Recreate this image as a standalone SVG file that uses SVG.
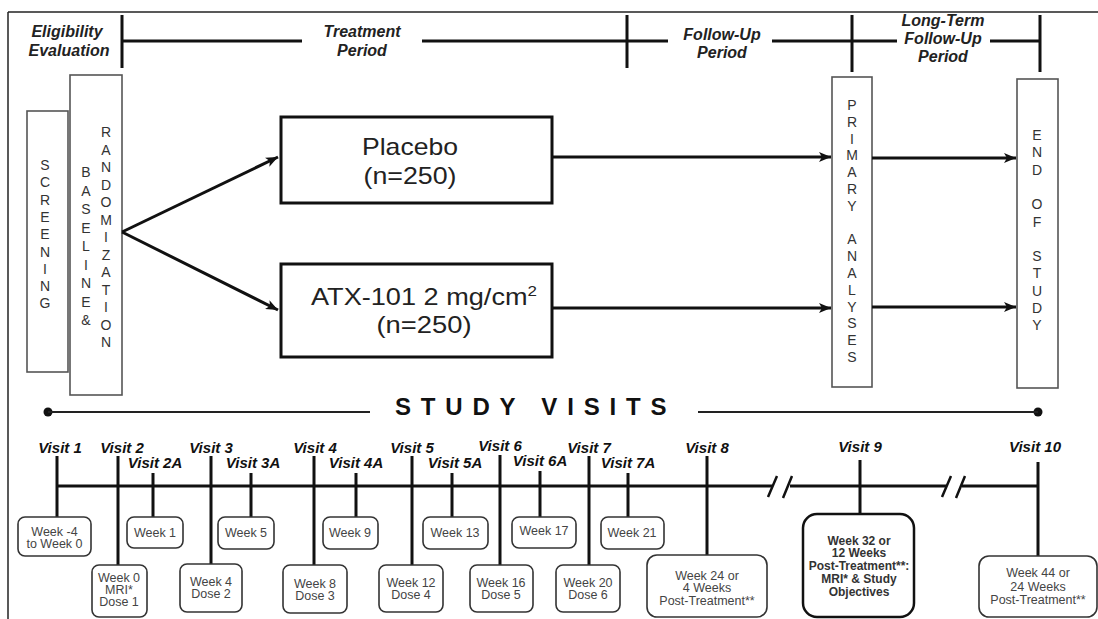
<svg xmlns="http://www.w3.org/2000/svg" width="1098" height="619" viewBox="0 0 1098 619">
<style>
.hdr{font-family:"Liberation Sans",Arial,sans-serif;font-size:16px;font-weight:bold;font-style:italic;fill:#222;text-anchor:middle}
.hl{stroke:#111;stroke-width:3;fill:none}
.vbox{fill:#fff;stroke:#555;stroke-width:1.6}
.vt{font-family:"Liberation Sans",Arial,sans-serif;font-size:14px;fill:#333;text-anchor:middle}
.big{fill:#fff;stroke:#111;stroke-width:3}
.bt{font-family:"Liberation Sans",Arial,sans-serif;font-size:24px;fill:#222;text-anchor:middle}
.conn{stroke:#111;stroke-width:3;fill:none}
.vl{font-family:"Liberation Sans",Arial,sans-serif;font-size:15px;font-weight:bold;font-style:italic;fill:#111;text-anchor:middle}
.wb{fill:#fff;stroke:#333;stroke-width:1.6}
.wt{font-family:"Liberation Sans",Arial,sans-serif;font-size:12.5px;fill:#444;text-anchor:middle}
.wtb{font-family:"Liberation Sans",Arial,sans-serif;font-size:12px;font-weight:bold;fill:#333;text-anchor:middle}
.tk{stroke:#111;stroke-width:3;fill:none}
</style>
<defs>
<marker id="ah" viewBox="0 0 12 10" refX="12" refY="5" markerWidth="13" markerHeight="10" markerUnits="userSpaceOnUse" orient="auto">
<path d="M0,0 L12,5 L0,10 L3,5 Z" fill="#111"/>
</marker>
</defs>
<rect width="1098" height="619" fill="#fff"/>
<g id="frame">
<line x1="8" y1="12" x2="1098" y2="12" stroke="#222" stroke-width="1.5"/>
<line x1="8" y1="12" x2="8" y2="619" stroke="#222" stroke-width="1.5"/>
</g>
<g id="header">
<text class="hdr" x="67" y="37">Eligibility</text>
<text class="hdr" x="69" y="56">Evaluation</text>
<text class="hdr" x="362" y="37">Treatment</text>
<text class="hdr" x="362" y="56">Period</text>
<text class="hdr" x="722" y="40">Follow-Up</text>
<text class="hdr" x="722" y="58">Period</text>
<text class="hdr" x="943" y="26">Long-Term</text>
<text class="hdr" x="943" y="44">Follow-Up</text>
<text class="hdr" x="943" y="62">Period</text>
<path class="hl" d="M122,41 H302 M422,41 H668 M772,41 H897 M990,41 H1040 M122,15 V68 M627,15 V68 M852,15 V72 M1040,15 V72"/>
</g>
<g id="screening">
<rect class="vbox" x="27" y="111" width="41" height="261"/>
<text class="vt"><tspan x="45" y="170">S</tspan><tspan x="45" y="187.3">C</tspan><tspan x="45" y="204.6">R</tspan><tspan x="45" y="221.9">E</tspan><tspan x="45" y="239.2">E</tspan><tspan x="45" y="256.5">N</tspan><tspan x="45" y="273.8">I</tspan><tspan x="45" y="291.1">N</tspan><tspan x="45" y="308.4">G</tspan></text>
</g>
<g id="baseline">
<rect class="vbox" x="70" y="75" width="52" height="320"/>
<text class="vt"><tspan x="86" y="177">B</tspan><tspan x="86" y="195.5">A</tspan><tspan x="86" y="214">S</tspan><tspan x="86" y="232.5">E</tspan><tspan x="86" y="251">L</tspan><tspan x="86" y="269.5">I</tspan><tspan x="86" y="288">N</tspan><tspan x="86" y="306.5">E</tspan><tspan x="86" y="325">&amp;</tspan></text>
<text class="vt"><tspan x="106" y="137">R</tspan><tspan x="106" y="154.5">A</tspan><tspan x="106" y="172">N</tspan><tspan x="106" y="189.5">D</tspan><tspan x="106" y="207">O</tspan><tspan x="106" y="224.5">M</tspan><tspan x="106" y="242">I</tspan><tspan x="106" y="259.5">Z</tspan><tspan x="106" y="277">A</tspan><tspan x="106" y="294.5">T</tspan><tspan x="106" y="312">I</tspan><tspan x="106" y="329.5">O</tspan><tspan x="106" y="347">N</tspan></text>
</g>
<g id="placebo">
<rect class="big" x="281" y="117" width="271" height="86"/>
<text class="bt" x="410" y="155" textLength="96" lengthAdjust="spacingAndGlyphs">Placebo</text>
<text class="bt" x="410" y="184" textLength="93" lengthAdjust="spacingAndGlyphs">(n=250)</text>
</g>
<g id="atx">
<rect class="big" x="281" y="264" width="271" height="93"/>
<text class="bt" x="424" y="305" textLength="226" lengthAdjust="spacingAndGlyphs">ATX-101 2 mg/cm<tspan font-size="15" dy="-9">2</tspan></text>
<text class="bt" x="424" y="333" textLength="95" lengthAdjust="spacingAndGlyphs">(n=250)</text>
</g>
<g id="primary">
<rect class="vbox" x="832" y="77" width="40" height="310"/>
<text class="vt"><tspan x="852" y="110">P</tspan><tspan x="852" y="126.8">R</tspan><tspan x="852" y="143.6">I</tspan><tspan x="852" y="160.4">M</tspan><tspan x="852" y="177.2">A</tspan><tspan x="852" y="194">R</tspan><tspan x="852" y="210.8">Y</tspan><tspan x="852" y="244.4">A</tspan><tspan x="852" y="261.2">N</tspan><tspan x="852" y="278">A</tspan><tspan x="852" y="294.8">L</tspan><tspan x="852" y="311.6">Y</tspan><tspan x="852" y="328.4">S</tspan><tspan x="852" y="345.2">E</tspan><tspan x="852" y="362">S</tspan></text>
</g>
<g id="end">
<rect class="vbox" x="1017" y="79" width="41" height="309"/>
<text class="vt"><tspan x="1037" y="140">E</tspan><tspan x="1037" y="157.3">N</tspan><tspan x="1037" y="174.6">D</tspan><tspan x="1037" y="209.2">O</tspan><tspan x="1037" y="226.5">F</tspan><tspan x="1037" y="261.1">S</tspan><tspan x="1037" y="278.4">T</tspan><tspan x="1037" y="295.7">U</tspan><tspan x="1037" y="313">D</tspan><tspan x="1037" y="330.3">Y</tspan></text>
</g>
<g id="connectors">
<line class="conn" x1="122" y1="232" x2="278" y2="157" marker-end="url(#ah)"/>
<line class="conn" x1="122" y1="232" x2="278" y2="310" marker-end="url(#ah)"/>
<line class="conn" x1="552" y1="157" x2="831" y2="157" marker-end="url(#ah)"/>
<line class="conn" x1="552" y1="308" x2="831" y2="308" marker-end="url(#ah)"/>
<line class="conn" x1="872" y1="158" x2="1016" y2="158" marker-end="url(#ah)"/>
<line class="conn" x1="872" y1="307" x2="1016" y2="307" marker-end="url(#ah)"/>
</g>
<g id="study-visits">
<circle cx="48" cy="412" r="4.5" fill="#111"/>
<circle cx="1038" cy="412" r="4.5" fill="#111"/>
<line x1="48" y1="412" x2="370" y2="412" stroke="#222" stroke-width="2"/>
<line x1="698" y1="412" x2="1038" y2="412" stroke="#222" stroke-width="2"/>
<text x="395" y="415" font-family="Liberation Sans,Arial,sans-serif" font-size="24" font-weight="bold" fill="#111" letter-spacing="9.8">STUDY VISITS</text>
</g>
<g id="timeline">
<path class="tk" d="M57,486 H772 M790,486 H946 M962,486 H1038"/>
<path d="M768,497 L777,476 M783,498 L792,476 M942,497 L951,476 M956,498 L965,476" stroke="#111" stroke-width="2.5" fill="none"/>
<path class="tk" d="M57,456 V517 M118,456 V565 M153,473 V517 M211,456 V564 M251,473 V517 M314,456 V565 M356,473 V517 M412,456 V565 M452,473 V517 M500,455 V565 M540,471 V517 M589,456 V565 M628,473 V517 M707,456 V555 M860,460 V514 M1038,462 V556"/>
</g>
<g id="visit1"><text class="vl" x="60" y="453">Visit 1</text><rect class="wb" x="18" y="517" width="73" height="39" rx="7"/><text class="wt" x="54.5" y="536">Week -4</text><text class="wt" x="54.5" y="548">to Week 0</text></g>
<g id="visit2"><text class="vl" x="122" y="453">Visit 2</text><rect class="wb" x="92" y="565" width="55" height="52" rx="7"/><text class="wt" x="119" y="582">Week 0</text><text class="wt" x="119" y="594">MRI*</text><text class="wt" x="119" y="606">Dose 1</text></g>
<g id="visit2a"><text class="vl" x="155" y="468">Visit 2A</text><rect class="wb" x="127" y="517" width="56" height="31" rx="7"/><text class="wt" x="155" y="537">Week 1</text></g>
<g id="visit3"><text class="vl" x="211" y="453">Visit 3</text><rect class="wb" x="180" y="564" width="62" height="48" rx="7"/><text class="wt" x="211" y="586">Week 4</text><text class="wt" x="211" y="598">Dose 2</text></g>
<g id="visit3a"><text class="vl" x="253" y="468">Visit 3A</text><rect class="wb" x="218" y="517" width="56" height="32" rx="7"/><text class="wt" x="246" y="537">Week 5</text></g>
<g id="visit4"><text class="vl" x="315" y="453">Visit 4</text><rect class="wb" x="283" y="565" width="64" height="48" rx="7"/><text class="wt" x="315" y="588">Week 8</text><text class="wt" x="315" y="600">Dose 3</text></g>
<g id="visit4a"><text class="vl" x="356" y="468">Visit 4A</text><rect class="wb" x="323" y="517" width="55" height="32" rx="7"/><text class="wt" x="350" y="537">Week 9</text></g>
<g id="visit5"><text class="vl" x="412" y="453">Visit 5</text><rect class="wb" x="379" y="565" width="64" height="47" rx="7"/><text class="wt" x="411" y="587">Week 12</text><text class="wt" x="411" y="599">Dose 4</text></g>
<g id="visit5a"><text class="vl" x="455" y="468">Visit 5A</text><rect class="wb" x="423" y="517" width="65" height="32" rx="7"/><text class="wt" x="455" y="537">Week 13</text></g>
<g id="visit6"><text class="vl" x="500" y="451">Visit 6</text><rect class="wb" x="470" y="565" width="63" height="47" rx="7"/><text class="wt" x="501" y="587">Week 16</text><text class="wt" x="501" y="599">Dose 5</text></g>
<g id="visit6a"><text class="vl" x="540" y="466">Visit 6A</text><rect class="wb" x="512" y="517" width="64" height="31" rx="7"/><text class="wt" x="544" y="535">Week 17</text></g>
<g id="visit7"><text class="vl" x="589" y="453">Visit 7</text><rect class="wb" x="556" y="565" width="64" height="47" rx="7"/><text class="wt" x="588" y="587">Week 20</text><text class="wt" x="588" y="599">Dose 6</text></g>
<g id="visit7a"><text class="vl" x="628" y="468">Visit 7A</text><rect class="wb" x="601" y="517" width="63" height="32" rx="7"/><text class="wt" x="632" y="537">Week 21</text></g>
<g id="visit8"><text class="vl" x="707" y="453">Visit 8</text><rect class="wb" x="647" y="555" width="120" height="62" rx="10"/><text class="wt" x="707" y="580">Week 24 or</text><text class="wt" x="707" y="592">4 Weeks</text><text class="wt" x="707" y="605">Post-Treatment**</text></g>
<g id="visit9"><text class="vl" x="860" y="452">Visit 9</text><rect x="803" y="514" width="111" height="103" rx="14" fill="#fff" stroke="#111" stroke-width="2.5"/><text class="wtb" x="859" y="545">Week 32 or</text><text class="wtb" x="859" y="557">12 Weeks</text><text class="wtb" x="859" y="570">Post-Treatment**:</text><text class="wtb" x="859" y="583">MRI* &amp; Study</text><text class="wtb" x="859" y="596">Objectives</text></g>
<g id="visit10"><text class="vl" x="1035" y="452">Visit 10</text><rect class="wb" x="979" y="556" width="118" height="61" rx="10"/><text class="wt" x="1038" y="577">Week 44 or</text><text class="wt" x="1038" y="591">24 Weeks</text><text class="wt" x="1038" y="604">Post-Treatment**</text></g>
</svg>
